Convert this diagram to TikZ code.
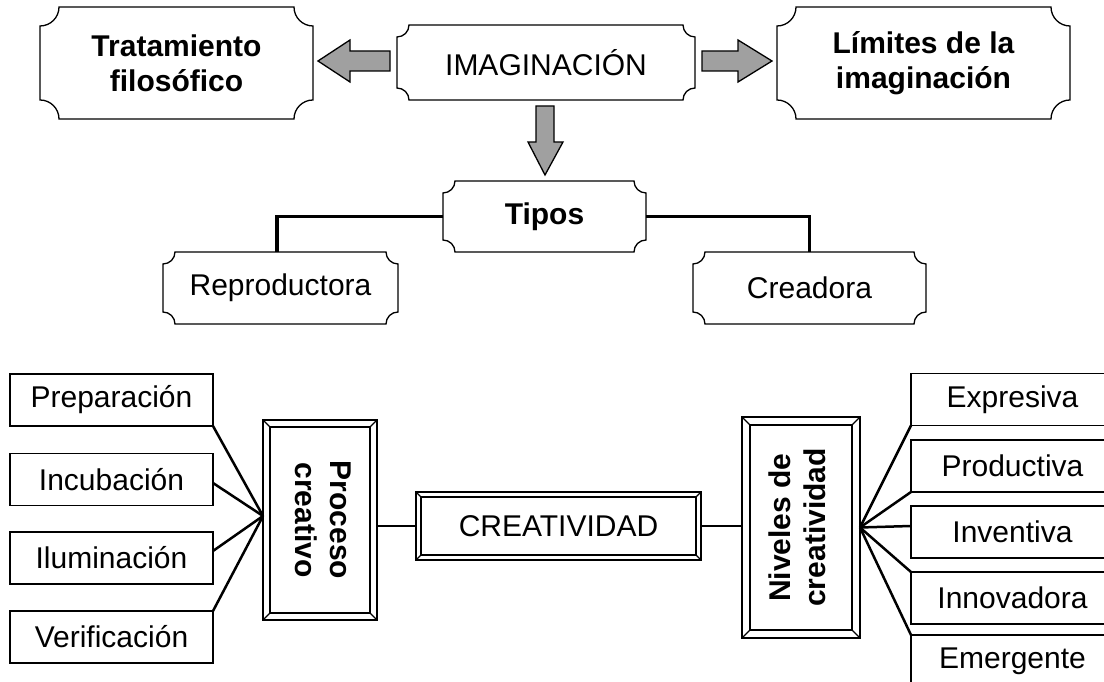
\documentclass[tikz,border=0pt]{standalone}
\usepackage{fontspec}
\setmainfont{Liberation Sans}
\usepackage{graphicx}
\definecolor{arrowgray}{RGB}{160,160,160}
\begin{document}
\begin{tikzpicture}[x=1pt,y=1pt,
  every node/.style={font=\fontsize{30}{35}\selectfont, inner sep=0pt, outer sep=0pt, align=center},
  boldtext/.style={font=\fontsize{30}{35}\selectfont\bfseries},
  plaque/.style={rectangle},
  frame/.style={rectangle, draw, line width=1.3},
  sbox/.style={rectangle, draw, line width=1.4, minimum width=203, minimum height=52},
  thickline/.style={line width=3.5},
  fanline/.style={line width=2.5},
  blockarrow/.style={draw, fill=arrowgray, line width=1.3, line join=miter},
]
\useasboundingbox (0,0) rectangle (1104,682);
\clip (0,0) rectangle (1104,682);

% --- top plaques
\node[plaque, boldtext, minimum width=273, minimum height=112] (trat) at (176.5,619) {Tratamiento\\filosófico};
\node[plaque, minimum width=298, minimum height=75] (imag) at (546,619.5) {IMAGINACIÓN};
\node[plaque, boldtext, minimum width=293, minimum height=112] (lim) at (923.5,619) {Límites de la\\imaginación};
\node[plaque, boldtext, minimum width=203, minimum height=71] (tipos) at (544.5,465.5) {Tipos};
\node[plaque, minimum width=235, minimum height=72] (repro) at (280.5,394) {Reproductora};
\node[plaque, minimum width=233, minimum height=72] (crea) at (809.5,394) {Creadora};

\foreach \n/\r in {trat/19, imag/12, lim/19, tipos/12, repro/12, crea/12}{
  \draw[line width=1.3]
    ([xshift=\r]\n.north west) -- ([xshift=-\r]\n.north east)
    arc[start angle=180, end angle=270, radius=\r]
    -- ([yshift=\r]\n.south east)
    arc[start angle=90, end angle=180, radius=\r]
    -- ([xshift=\r]\n.south west)
    arc[start angle=0, end angle=90, radius=\r]
    -- ([yshift=-\r]\n.north west)
    arc[start angle=270, end angle=360, radius=\r]
    -- cycle;
}

% --- block arrows
\draw[blockarrow] (318,621) -- (350,642) -- (350,631) -- (390,631) -- (390,611) -- (350,611) -- (350,600) -- cycle;
\draw[blockarrow] (702,631) -- (738,631) -- (738,642) -- (772,621) -- (738,600) -- (738,611) -- (702,611) -- cycle;
\draw[blockarrow] (536,576) -- (554,576) -- (554,540) -- (563,540) -- (545,507) -- (528,540) -- (536,540) -- cycle;

% --- types connectors
\draw[thickline] (tipos.west) -| ([xshift=-3.5]repro.north);
\draw[thickline] (tipos.east) -| (crea.north);

% --- bottom section
\node[sbox] (prep) at (111.5,282) {Preparación};
\node[sbox] (incu) at (111.5,202.5) {Incubación};
\node[sbox] (ilum) at (111.5,124) {Iluminación};
\node[sbox] (veri) at (111.5,45) {Verificación};

\node[frame, boldtext, minimum width=114, minimum height=200] (proc) at (320,162)
  {\rotatebox{-90}{\begin{tabular}{@{}c@{}}Proceso\\creativo\end{tabular}}};
\node[frame, minimum width=285, minimum height=68] (creat) at (558.5,156) {CREATIVIDAD};
\node[frame, boldtext, minimum width=118, minimum height=221] (niv) at (801,154.5)
  {\rotatebox{90}{\begin{tabular}{@{}c@{}}Niveles de\\creatividad\end{tabular}}};

\foreach \n/\d in {proc/7, creat/5, niv/8}{
  \draw[line width=1.1] ([shift={(\d,\d)}]\n.south west) rectangle ([shift={(-\d,-\d)}]\n.north east);
  \draw[line width=1.1] (\n.south west) -- ++(\d,\d);
  \draw[line width=1.1] (\n.south east) -- ++(-\d,\d);
  \draw[line width=1.1] (\n.north west) -- ++(\d,-\d);
  \draw[line width=1.1] (\n.north east) -- ++(-\d,-\d);
}

\node[sbox] (expr) at (1012.5,282.5) {Expresiva};
\node[sbox] (prod) at (1012.5,216) {Productiva};
\node[sbox] (inv) at (1012.5,150) {Inventiva};
\node[sbox] (innov) at (1012.5,84) {Innovadora};
\node[sbox] (emerg) at (1012.5,21) {Emergente};

\coordinate (pf) at ([yshift=4]proc.west);
\draw[fanline] (prep.south east) -- (pf);
\draw[fanline] ([yshift=-3.5]incu.east) -- (pf);
\draw[fanline] ([yshift=7]ilum.east) -- (pf);
\draw[fanline] (veri.north east) -- (pf);

\draw[fanline] (creat.west) -- (creat.west -| proc.east);
\draw[fanline] (creat.east) -- (creat.east -| niv.west);

\coordinate (nf) at (niv.east);
\draw[fanline] (nf) -- (expr.south west);
\draw[fanline] (nf) -- (prod.south west);
\draw[fanline] (nf) -- ([yshift=6]inv.west);
\draw[fanline] (nf) -- (innov.north west);
\draw[fanline] (nf) -- (emerg.north west);
\end{tikzpicture}
\end{document}
